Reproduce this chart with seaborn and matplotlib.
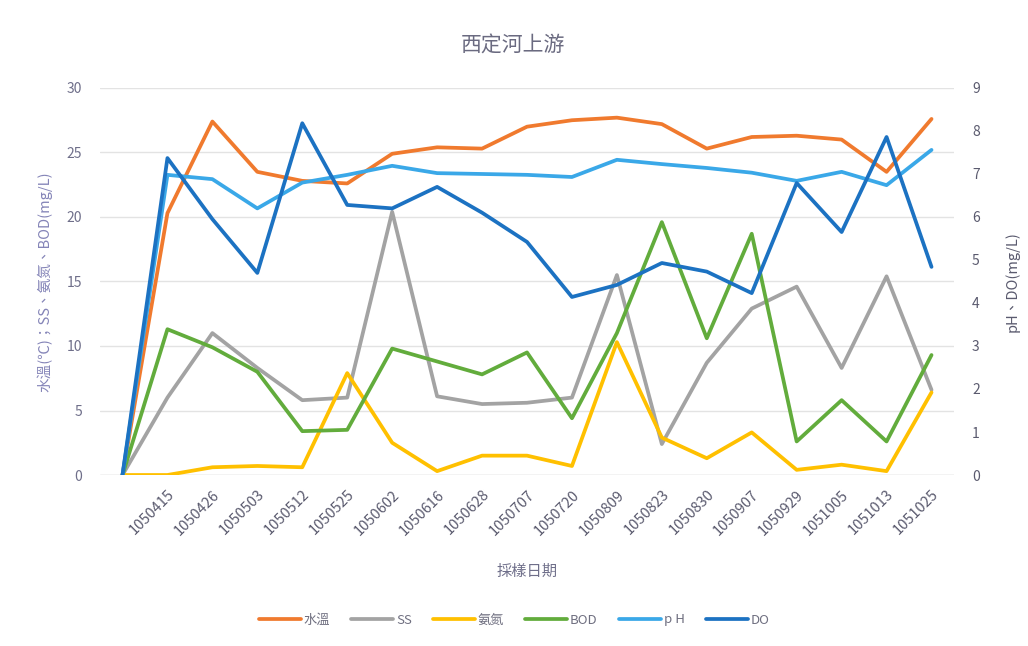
import pandas as pd
import matplotlib.pyplot as plt
import seaborn as sns
import numpy as np

# sampling dates (first category is an empty row in the sheet)
dates = ["", "1050415", "1050426", "1050503", "1050512", "1050525", "1050602",
         "1050616", "1050628", "1050707", "1050720", "1050809", "1050823",
         "1050830", "1050907", "1050929", "1051005", "1051013", "1051025"]

# left axis series
water_temp = [0, 20.3, 27.4, 23.5, 22.8, 22.6, 24.9, 25.4, 25.3, 27.0, 27.5,
              27.7, 27.2, 25.3, 26.2, 26.3, 26.0, 23.5, 27.6]
ss = [0, 6.0, 11.0, 8.3, 5.8, 6.0, 20.4, 6.1, 5.5, 5.6, 6.0,
      15.5, 2.4, 8.7, 12.9, 14.6, 8.3, 15.4, 6.6]
nh3n = [0, 0.0, 0.6, 0.7, 0.6, 7.9, 2.5, 0.3, 1.5, 1.5, 0.7,
        10.3, 2.9, 1.3, 3.3, 0.4, 0.8, 0.3, 6.4]
bod = [0, 11.3, 9.9, 8.0, 3.4, 3.5, 9.8, 8.8, 7.8, 9.5, 4.4,
       11.0, 19.6, 10.6, 18.7, 2.6, 5.8, 2.6, 9.3]

# right axis series
ph = [0, 6.98, 6.88, 6.2, 6.8, 6.98, 7.19, 7.02, 7.0, 6.98, 6.93,
      7.33, 7.23, 7.14, 7.03, 6.84, 7.05, 6.74, 7.56]
do = [0, 7.37, 5.95, 4.7, 8.18, 6.28, 6.2, 6.7, 6.1, 5.42, 4.14,
      4.42, 4.93, 4.73, 4.23, 6.79, 5.65, 7.86, 4.84]

left_names = ["水溫", "SS", "氨氮", "BOD"]
right_names = ["pH", "DO"]
colors = {"水溫": "#F07A2E", "SS": "#A3A3A3", "氨氮": "#FFC000",
          "BOD": "#62AC3C", "pH": "#3AA8E8", "DO": "#1C72C2"}
legend_labels = {"pH": "p H"}

idx = np.arange(len(dates))
left_df = pd.DataFrame({"x": idx, "水溫": water_temp, "SS": ss, "氨氮": nh3n, "BOD": bod})
left_df = left_df.melt(id_vars="x", var_name="series", value_name="value")
right_df = pd.DataFrame({"x": idx, "pH": ph, "DO": do})
right_df = right_df.melt(id_vars="x", var_name="series", value_name="value")

sns.set_theme(style="white")
plt.rcParams["font.family"] = ["Noto Sans CJK TC", "DejaVu Sans"]

text_col = "#6F6F8A"
fig, ax = plt.subplots(figsize=(10.28, 6.46), dpi=100)
fig.subplots_adjust(left=0.0973, right=0.928, bottom=0.2647, top=0.8638)
ax2 = ax.twinx()

sns.lineplot(data=left_df, x="x", y="value", hue="series", hue_order=left_names,
             palette=colors, linewidth=2.7, sort=False, legend=False, ax=ax)
sns.lineplot(data=right_df, x="x", y="value", hue="series", hue_order=right_names,
             palette=colors, linewidth=2.7, sort=False, legend=False, ax=ax2)

ax.set_xlim(-0.5, len(dates) - 0.5)
ax.set_ylim(0, 30)
ax.set_yticks(range(0, 31, 5))
ax2.set_ylim(0, 9)
ax2.set_yticks(range(0, 10))
ax.set_xticks(idx)
ax.set_xticklabels(dates, rotation=45, ha="right", rotation_mode="anchor",
                   fontsize=10.5, color="#5A5A6E")

ax.grid(axis="y", color="#E3E3E3", linewidth=1)
ax.grid(axis="x", visible=False)
ax2.grid(False)
for a in (ax, ax2):
    for s in a.spines.values():
        s.set_visible(False)
ax.axhline(0, color="#D9D9D9", linewidth=1, zorder=0)

ax.tick_params(axis="y", length=0, pad=13, labelsize=10, labelcolor=text_col)
ax2.tick_params(axis="y", length=0, pad=13, labelsize=10, labelcolor="#5A5A6E")
ax.tick_params(axis="x", length=0, pad=9)

ax.set_xlabel("採樣日期", fontsize=11, color=text_col, labelpad=18)
ax.set_ylabel("水溫(℃)；SS、氨氮、BOD(mg/L)", fontsize=10.5, color="#8585B8", labelpad=10)
ax2.set_ylabel("pH、DO(mg/L)", fontsize=10.5, color="#5A5A6E", labelpad=18)

fig.text(0.499, 0.93, "西定河上游", ha="center", va="center", fontsize=15, color="#6A6A80")

handles = list(ax.get_lines()[:4]) + list(ax2.get_lines()[:2])
labels = [legend_labels.get(n, n) for n in left_names + right_names]
fig.legend(handles, labels, loc="center", bbox_to_anchor=(0.5, 1 - 620 / 646),
           ncol=6, frameon=False, fontsize=9.5, handlelength=3.2,
           columnspacing=1.6, handletextpad=0.2, labelcolor="#6F6F80")

plt.savefig("out.png", dpi=100)
